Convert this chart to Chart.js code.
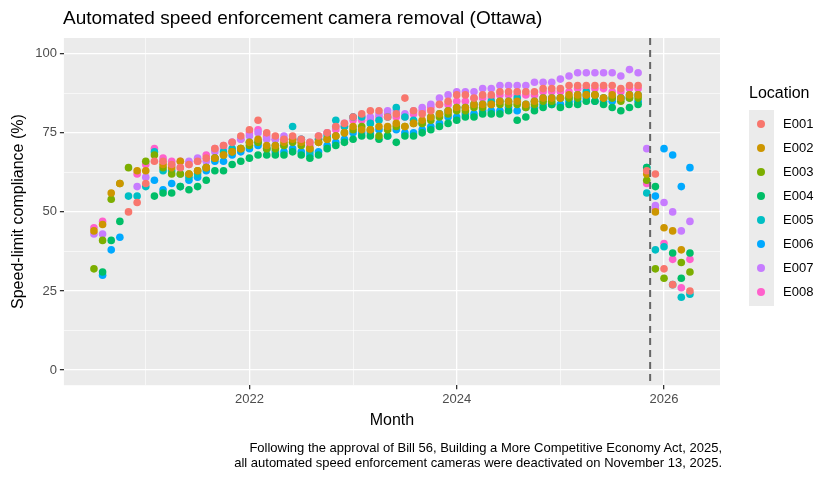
<!DOCTYPE html>
<html>
<head>
<meta charset="utf-8">
<script src="https://cdn.jsdelivr.net/npm/chart.js@4.4.1/dist/chart.umd.min.js"></script>
<style>
  body { margin: 0; background: #fff; font-family: "Liberation Sans", Arial, sans-serif; }
  #wrap { position: relative; width: 840px; height: 480px; }
  #title { position: absolute; left: 63px; top: 7px; font-size: 19px; color: #000; }
  #legend { position: absolute; left: 749px; top: 84px; }
  #legend .lt { font-size: 16px; color: #000; margin-bottom: 8px; }
  #legend .keys { background: #EBEBEB; width: 25px; padding: 2px 0; }
  .item { position: relative; height: 24px; }
  .dot { position: absolute; left: 8px; top: 8px; width: 8px; height: 8px; border-radius: 50%; }
  .lab { position: absolute; left: 34px; top: 4px; font-size: 13px; color: #000; white-space: nowrap; }
  #caption { position: absolute; right: 118px; top: 440px; text-align: right; font-size: 13px; line-height: 15px; color: #000; }
</style>
</head>
<body>
<div id="wrap">
  <canvas id="c" width="840" height="480"></canvas>
  <div id="title">Automated speed enforcement camera removal (Ottawa)</div>
  <div id="legend"><div class="lt">Location</div><div class="keys" id="keys"></div></div>
  <div id="caption">Following the approval of Bill 56, Building a More Competitive Economy Act, 2025,<br>all automated speed enforcement cameras were deactivated on November 13, 2025.</div>
</div>
<script>
// months Jul 2020 .. Apr 2026 (70 monthly points)
const startYear = 2020.5;
const locations = ["E001", "E002", "E003", "E004", "E005", "E006", "E007", "E008"];
const colors = ["#F8766D", "#CD9600", "#7CAE00", "#00BE67", "#00BFC4", "#00A9FF", "#C77CFF", "#FF61CC"];
const removalDate = 2025.866; // November 13, 2025

// Jul 2020 - Feb 2021
const early = {
  E001: [null, null, null, null, 50, 53, 59, 66],
  E002: [44, 46, 56, 59, null, 63, 63, null],
  E003: [32, 41, 54, 59, 64, null, 66, 68],
  E004: [null, 31, 41, 47, null, null, null, 55],
  E005: [null, null, null, null, 55, 55, 58, 69],
  E006: [null, 30, 38, 42, null, null, null, 60],
  E007: [43, 43, null, null, null, 58, 61, null],
  E008: [45, 47, null, null, null, 62, 65, 70],
};
// Mar 2021 - Oct 2025
const mid = {
  E001: [66,65,64,65,66,67,70,71,72,74,76,79,75,74,73,74,73,72,74,75,77,78,80,81,82,82,80,81,86,82,81,82,84,85,87,87,86,87,87,88,88,88,88,88,89,89,89,90,90,90,90,90,90,89,90,90],
  E002: [65,64,66,62,63,64,67,68,69,70,72,73,71,71,72,73,72,70,72,73,74,75,77,76,76,77,77,78,77,78,79,80,81,82,83,83,84,84,84,85,85,85,84,85,86,86,86,87,87,87,87,86,87,86,87,87],
  E003: [64,62,62,62,63,64,67,68,69,70,71,72,70,70,71,72,71,70,72,73,74,75,76,77,76,74,76,77,77,78,78,79,80,81,82,82,83,83,84,84,84,84,83,84,85,85,86,86,86,87,87,86,86,85,86,86],
  E004: [56,56,58,57,58,60,63,63,65,66,67,68,68,68,68,69,68,67,68,70,71,72,73,74,74,73,74,72,74,74,75,76,77,78,79,80,80,81,81,81,82,79,80,82,83,84,83,84,84,85,85,84,83,82,83,84],
  E005: [63,63,62,61,62,64,67,69,70,70,72,72,70,71,71,77,73,69,73,74,79,77,80,80,78,79,80,83,80,79,78,80,81,82,83,83,84,84,85,85,85,86,84,85,86,86,86,86,87,88,87,86,86,86,87,87],
  E006: [57,59,58,60,61,63,66,66,68,69,70,71,70,69,69,70,69,68,69,71,72,73,75,75,75,76,74,76,75,75,76,77,78,80,80,81,81,82,82,82,83,82,83,83,84,84,84,85,85,86,85,85,85,86,86,85],
  E007: [66,65,64,66,67,66,69,70,72,73,74,75,73,73,74,73,73,72,74,75,77,78,80,80,80,81,82,82,81,82,83,84,86,87,88,88,88,89,89,90,90,90,90,91,91,91,92,93,94,94,94,94,94,93,95,94],
  E008: [67,66,66,65,66,68,70,71,72,73,75,76,74,73,73,73,72,71,73,75,76,77,79,79,79,80,81,80,80,81,82,83,84,84,85,85,86,86,86,87,87,87,87,87,88,88,88,88,89,89,89,89,88,88,89,89],
};
// Nov 2025 - Apr 2026
const late = {
  E001: [63, 62, 32, 27, null, 25],
  E002: [62, 50, 45, 44, 38, null],
  E003: [60, 32, 29, null, 34, 31],
  E004: [64, 58, null, 37, 29, 37],
  E005: [56, 38, 39, 27, 23, 24],
  E006: [64, 55, 70, 68, 58, 64],
  E007: [70, 52, 53, 50, 44, 47],
  E008: [59, 51, 40, 35, 26, 35],
};
const xTicks = [2021, 2022, 2023, 2024, 2025, 2026];
const yTicks = [0, 12.5, 25, 37.5, 50, 62.5, 75, 87.5, 100];

const datasets = locations.map((loc, k) => {
  const vals = early[loc].concat(mid[loc], late[loc]);
  const pts = [];
  vals.forEach((v, i) => { if (v !== null) pts.push({ x: startYear + i / 12, y: v }); });
  return {
    label: loc, data: pts, backgroundColor: colors[k], borderColor: colors[k],
    pointRadius: 3.8, pointHoverRadius: 3.8, borderWidth: 0, showLine: false,
  };
});

const keys = document.getElementById("keys");
locations.forEach((loc, k) => {
  keys.innerHTML += `<div class="item"><span class="dot" style="background:${colors[k]}"></span><span class="lab">${loc}</span></div>`;
});

const panel = {
  id: "panel",
  beforeDraw(chart) {
    const { ctx, chartArea: a } = chart;
    ctx.save();
    ctx.fillStyle = "#EBEBEB";
    ctx.fillRect(a.left, a.top, a.right - a.left, a.bottom - a.top);
    ctx.restore();
  },
  afterDatasetsDraw(chart) {
    const { ctx, chartArea: a, scales } = chart;
    const x = scales.x.getPixelForValue(removalDate);
    ctx.save();
    ctx.strokeStyle = "#666";
    ctx.lineWidth = 2;
    ctx.setLineDash([7, 5]);
    ctx.beginPath();
    ctx.moveTo(x, a.top);
    ctx.lineTo(x, a.bottom);
    ctx.stroke();
    ctx.restore();
  },
};

const tickFont = { family: "Liberation Sans", size: 13 };
new Chart(document.getElementById("c"), {
  type: "scatter",
  data: { datasets },
  plugins: [panel],
  options: {
    responsive: false,
    animation: false,
    layout: { padding: { top: 38, right: 120, bottom: 46, left: 5 } },
    plugins: { legend: { display: false }, tooltip: { enabled: false } },
    scales: {
      x: {
        type: "linear", min: 2020.21, max: 2026.54,
        afterBuildTicks: (s) => { s.ticks = xTicks.map((v) => ({ value: v })); },
        ticks: { color: "#4D4D4D", font: tickFont, padding: 2, maxRotation: 0,
          callback: (v) => (v % 2 === 0 ? String(v) : "") },
        grid: { color: "#fff", lineWidth: (c) => (c.tick && c.tick.value % 2 === 0 ? 1.3 : 0.6),
          tickColor: (c) => (c.tick && c.tick.value % 2 === 0 ? "#333" : "rgba(0,0,0,0)"), tickLength: 4 },
        border: { display: false },
        title: { display: true, text: "Month", color: "#000", font: { family: "Liberation Sans", size: 16 }, padding: { top: 2 } },
      },
      y: {
        min: -4.8, max: 105,
        afterBuildTicks: (s) => { s.ticks = yTicks.map((v) => ({ value: v })); },
        ticks: { color: "#4D4D4D", font: tickFont, padding: 3,
          callback: (v) => (v % 25 === 0 ? String(v) : "") },
        grid: { color: "#fff", lineWidth: (c) => (c.tick && c.tick.value % 25 === 0 ? 1.3 : 0.6),
          tickColor: (c) => (c.tick && c.tick.value % 25 === 0 ? "#333" : "rgba(0,0,0,0)"), tickLength: 4 },
        border: { display: false },
        title: { display: true, text: "Speed-limit compliance (%)", color: "#000", font: { family: "Liberation Sans", size: 16 }, padding: { bottom: 4 } },
      },
    },
  },
});
</script>
</body>
</html>
